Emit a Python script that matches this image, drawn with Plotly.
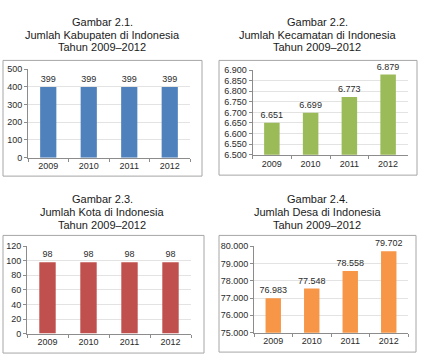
import plotly.graph_objects as go

W, H = 422, 360

years = ["2009", "2010", "2011", "2012"]
kabupaten = [399, 399, 399, 399]
kecamatan = [6651, 6699, 6773, 6879]
kota = [98, 98, 98, 98]
desa = [76983, 77548, 78558, 79702]

titles = [
    ["Gambar 2.1.", "Jumlah Kabupaten di Indonesia", "Tahun 2009\u20132012"],
    ["Gambar 2.2.", "Jumlah Kecamatan di Indonesia", "Tahun 2009\u20132012"],
    ["Gambar 2.3.", "Jumlah Kota di Indonesia", "Tahun 2009\u20132012"],
    ["Gambar 2.4.", "Jumlah Desa di Indonesia", "Tahun 2009\u20132012"],
]

FONT = "Liberation Sans, Arial, sans-serif"
TXT = "#2b2b2b"

panels = [
    dict(vals=kabupaten, color="#4F81BD", rng=[0, 500], dtick=100,
         area=(28, 190, 66, 157), frame=(3, 202, 57, 176), tx=102, ty=(17, 30.5, 43.5)),
    dict(vals=kecamatan, color="#9BBB59", rng=[6500, 6900], dtick=50,
         area=(252.5, 407.5, 67, 154), frame=(219, 417, 57, 175), tx=317, ty=(17, 30.5, 43.5)),
    dict(vals=kota, color="#C0504D", rng=[0, 120], dtick=20,
         area=(27, 191, 248, 338), frame=(3, 204, 237, 358), tx=102, ty=(200, 213, 226)),
    dict(vals=desa, color="#F79646", rng=[75000, 80000], dtick=1000,
         area=(254, 408, 248, 337), frame=(219, 416, 237, 357), tx=317, ty=(200, 213, 226)),
]

fig = go.Figure()
shapes = []
annotations = []
layout_axes = {}

for i, p in enumerate(panels):
    n = i + 1
    xa = "x" if n == 1 else f"x{n}"
    ya = "y" if n == 1 else f"y{n}"
    fig.add_trace(go.Bar(
        x=years, y=p["vals"], xaxis=xa, yaxis=ya,
        marker=dict(color=p["color"], line=dict(width=0)),
        width=0.4,
        text=[f"{v:,}".replace(",", ".") for v in p["vals"]],
        textposition="outside", cliponaxis=False, constraintext="none",
        textfont=dict(family=FONT, size=9, color=TXT),
        showlegend=False, hoverinfo="skip",
    ))
    x0, x1, yt, yb = p["area"]
    xkey = "xaxis" if n == 1 else f"xaxis{n}"
    ykey = "yaxis" if n == 1 else f"yaxis{n}"
    layout_axes[xkey] = dict(
        domain=[x0 / W, x1 / W], anchor=ya, type="category",
        showline=True, linecolor="#8c8c8c", linewidth=1,
        ticks="outside", tickson="boundaries", ticklen=3, tickcolor="#8c8c8c",
        showgrid=False, tickfont=dict(family=FONT, size=9, color=TXT),
        fixedrange=True,
    )
    layout_axes[ykey] = dict(
        domain=[1 - yb / H, 1 - yt / H], anchor=xa, range=p["rng"], dtick=p["dtick"],
        showline=True, linecolor="#8c8c8c", linewidth=1,
        ticks="outside", ticklen=3, tickcolor="#8c8c8c",
        showgrid=True, gridcolor="#e3e3e3", gridwidth=1,
        zeroline=False, tickformat=",d",
        tickfont=dict(family=FONT, size=9, color=TXT),
        fixedrange=True,
    )
    fx0, fx1, fy0, fy1 = p["frame"]
    shapes.append(dict(type="rect", xref="paper", yref="paper",
                       x0=fx0 / W, x1=fx1 / W, y0=1 - fy1 / H, y1=1 - fy0 / H,
                       line=dict(color="#a6a6a6", width=1), fillcolor="rgba(0,0,0,0)",
                       layer="below"))
    for line, ty in zip(titles[i], p["ty"]):
        annotations.append(dict(text=line, xref="paper", yref="paper",
                                x=p["tx"] / W, y=1 - ty / H, xanchor="center", yanchor="middle",
                                showarrow=False, font=dict(family=FONT, size=11, color="#1a1a1a")))

fig.update_layout(
    width=W, height=H, margin=dict(l=0, r=0, t=0, b=0),
    paper_bgcolor="white", plot_bgcolor="white",
    separators=",.", shapes=shapes, annotations=annotations,
    **layout_axes,
)

fig.write_html("out.html", config={"displayModeBar": False})
